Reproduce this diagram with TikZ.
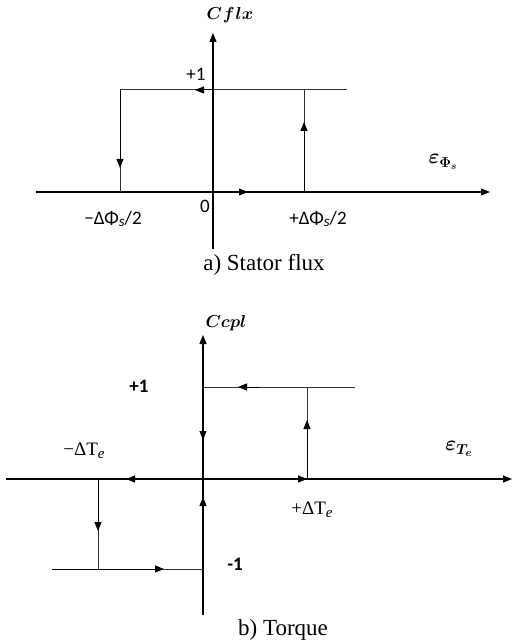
\documentclass[tikz,border=0pt]{standalone}
\usepackage{fontspec}
\usepackage{amsmath,bm}
\setmainfont{Liberation Serif}
\newfontfamily\carl{Carlito}
\usetikzlibrary{arrows.meta}
\newcommand{\subs}{\raisebox{-2.5pt}{\fontsize{15}{16}\selectfont\textit{s}}}
\newcommand{\sube}{\raisebox{-3pt}{\fontsize{15}{16}\selectfont\textit{e}}}
\begin{document}
\begin{tikzpicture}[x=1pt,y=-1pt,
  axis/.style={line width=1.3pt,-{Triangle[length=9pt,width=7pt]}},
  branch/.style={line width=1pt,draw=black!80},
  midarrow/.style={line width=1pt,-{Triangle[length=9pt,width=7pt]}},
  lbl/.style={inner sep=0pt,font=\carl\fontsize{19}{21}\selectfont},
  blbl/.style={inner sep=0pt,font=\carl\bfseries\fontsize{19}{21}\selectfont},
  mlbl/.style={inner sep=0pt,font=\fontsize{19}{21}\selectfont},
  captxt/.style={inner sep=0pt,font=\fontsize{23}{26}\selectfont}]
\useasboundingbox (0,0) rectangle (513,644);
% ---------- a) Stator flux ----------
\coordinate (xl1) at (36,192);  \coordinate (xr1) at (490,192);
\coordinate (yb1) at (213,249); \coordinate (yt1) at (213,33);
\coordinate (ul) at (120,90);   \coordinate (ur) at (347,90);
\coordinate (lb) at (120,192);  \coordinate (rb) at (304,192);
\coordinate (rt) at (304,90);
\draw[axis] (xl1) -- (xr1);
\draw[axis] (yb1) -- (yt1);
\draw[branch] (ul) -- (ur);
\draw[branch] (ul) -- (lb);
\draw[branch] (rb) -- (rt);
\draw[midarrow] (ul) -- (120,168);
\draw[midarrow] (rb) -- (304,122);
\draw[midarrow] (213,90) -- (195,90);
\draw[midarrow] (213,192) -- (248,192);
\node[inner sep=0pt,font=\fontsize{18}{20}\selectfont] (cflx) at (230,15) {$\bm{C}\hspace{1pt}\bm{f}\hspace{1pt}\bm{l}\bm{x}$};
\node[lbl] (p1a) at (196,74) {+1};
\node[lbl] (z) at (205,206) {0};
\node[lbl] (mphi) at (113,219) {−ΔΦ\subs/2};
\node[lbl] (pphi) at (318,219) {+ΔΦ\subs/2};
\node[inner sep=0pt,font=\fontsize{20}{22}\selectfont] (ephi) at (443,162) {$\bm{\varepsilon_{\Phi_s}}$};
\node[captxt] (capa) at (264,265) {a) Stator flux};
% ---------- b) Torque ----------
\coordinate (xl2) at (6,479);   \coordinate (xr2) at (512,479);
\coordinate (yb2) at (203,615); \coordinate (yt2) at (203,335);
\coordinate (u2l) at (203,387); \coordinate (u2r) at (355,387);
\coordinate (r2b) at (307,479); \coordinate (r2t) at (307,387);
\coordinate (l2t) at (98,479);  \coordinate (l2b) at (98,569);
\coordinate (lo2l) at (52,569); \coordinate (lo2r) at (203,569);
\draw[axis] (xl2) -- (xr2);
\draw[axis] (yb2) -- (yt2);
\draw[branch] (u2l) -- (u2r);
\draw[branch] (r2b) -- (r2t);
\draw[branch] (l2t) -- (l2b);
\draw[branch] (lo2l) -- (lo2r);
\draw[midarrow] (r2b) -- (307,420);
\draw[midarrow] (260,387) -- (238,387);
\draw[midarrow] (u2l) -- (203,440);
\draw[midarrow] (203,540) -- (203,497);
\draw[midarrow] (203,479) -- (126,479);
\draw[midarrow] (203,479) -- (r2b);
\draw[midarrow] (l2t) -- (98,531);
\draw[midarrow] (lo2l) -- (164,569);
\node[inner sep=0pt,font=\fontsize{19}{21}\selectfont] (ccpl) at (226,323) {$\bm{Ccpl}$};
\node[blbl] (p1b) at (139,386) {+1};
\node[blbl] (m1b) at (235,564) {-1};
\node[mlbl] (mte) at (84,451) {−ΔT\sube};
\node[mlbl] (pte) at (312,510) {+ΔT\sube};
\node[inner sep=0pt,font=\fontsize{21}{23}\selectfont] (ete) at (459,449) {$\bm{\varepsilon_{T_e}}$};
\node[captxt] (capb) at (283,630) {b) Torque};
\end{tikzpicture}
\end{document}
